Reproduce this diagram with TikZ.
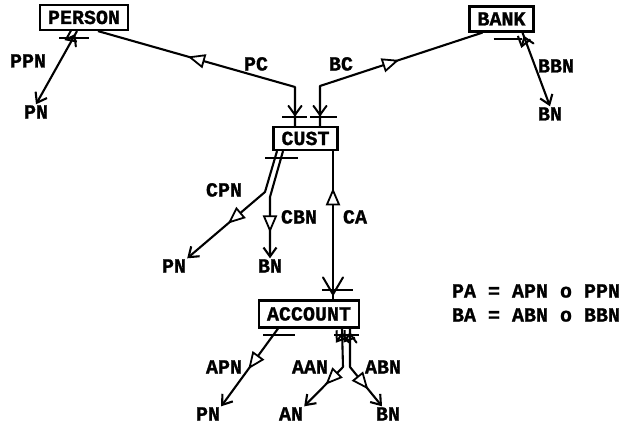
\documentclass[tikz,border=0pt]{standalone}
\usepackage{fontspec}
\setmainfont{Liberation Mono}[BoldFeatures={FakeBold=1.2}]
\usetikzlibrary{arrows.meta,decorations.markings}
\tikzset{
  conn/.style={line width=2.1pt, line join=round},
  ent/.style={draw, line width=2.2pt, inner xsep=8pt, inner ysep=0pt, minimum height=25pt, text height=13pt, text depth=0pt},
  lbl/.style={inner sep=1pt, text height=13pt, text depth=0pt},
  endarr/.style={-{Straight Barb[length=9pt,width=13pt]}},
  domv/.style={postaction={decorate, decoration={markings, mark=at position #1 with {\draw[line width=2pt,line cap=round] (9pt,6.5pt) -- (0pt,0pt) -- (9pt,-6.5pt);}}}},
  bigdomv/.style={postaction={decorate, decoration={markings, mark=at position #1 with {\draw[line width=2pt,line cap=round] (17pt,10pt) -- (0pt,0pt) -- (17pt,-10pt);}}}},
  tri/.style={postaction={decorate, decoration={markings, mark=at position #1 with {\draw[line width=1.8pt,fill=white,line join=miter] (0pt,0pt) -- (-14pt,6pt) -- (-14pt,-6pt) -- cycle;}}}},
}
\begin{document}
\begin{tikzpicture}[x=1pt,y=-1pt,font=\fontsize{20}{24}\selectfont\bfseries]
\useasboundingbox (0,0) rectangle (627,428);
% entities
\node[ent] (person) at (84,17.5) {PERSON};
\node[ent] (bank) at (501.5,19) {BANK};
\node[ent,minimum height=23pt] (cust) at (305.5,138.5) {CUST};
\node[ent,minimum height=27pt] (account) at (309,314) {ACCOUNT};
% value labels
\node[lbl] (pn1) at (36,112) {PN};
\node[lbl] (bn1) at (550,114) {BN};
\node[lbl] (pn2) at (174,266) {PN};
\node[lbl] (bn2) at (270,266) {BN};
\node[lbl] (pn3) at (208,414) {PN};
\node[lbl] (an) at (291,414) {AN};
\node[lbl] (bn3) at (388,414) {BN};
% function names
\node[lbl] (lppn) at (28,61) {PPN};
\node[lbl] (lpc) at (256,64) {PC};
\node[lbl] (lbc) at (341,64) {BC};
\node[lbl] (lbbn) at (556,66) {BBN};
\node[lbl] (lcpn) at (224,190) {CPN};
\node[lbl] (lcbn) at (299,217) {CBN};
\node[lbl] (lca) at (355,217) {CA};
\node[lbl] (lapn) at (224,367) {APN};
\node[lbl] (laan) at (310,367) {AAN};
\node[lbl] (labn) at (383,367) {ABN};
\node[lbl] (eq1) at (536,291) {PA = APN o PPN};
\node[lbl] (eq2) at (536,315) {BA = ABN o BBN};
% bend points
\coordinate (pcb) at (295,87);
\coordinate (bcb) at (320,86);
\coordinate (cpnb) at (265,192);
\coordinate (cbnb) at (270,197);
\coordinate (aanb) at (343,367);
\coordinate (abnb) at (350,367);
% PPN
\draw[conn,endarr,domv=5pt] ([xshift=-7pt]person.south) -- (pn1.north);
\draw[conn] ([xshift=-25pt,yshift=-6.5pt]person.south) -- ++(30,0);
% PC
\draw[conn,domv=11pt,tri=148pt] ([xshift=-10.5pt]cust.north) -- (pcb) -- ([xshift=14pt]person.south);
\draw[conn] ([xshift=-23.5pt,yshift=9pt]cust.north) -- ++(25,0);
% BC
\draw[conn,domv=11pt,tri=121pt] ([xshift=14.5pt]cust.north) -- (bcb) -- ([xshift=-19pt]bank.south);
\draw[conn] ([xshift=4.5pt,yshift=9pt]cust.north) -- ++(27,0);
% BBN
\draw[conn,endarr,domv=5pt] ([xshift=21pt]bank.south) -- (bn1.north);
\draw[conn] ([xshift=-8pt,yshift=-6pt]bank.south) -- ++(28,0);
% CPN and CBN
\draw[conn,endarr,tri=89pt] ([xshift=-28.5pt]cust.south) -- (cpnb) -- (pn2.north east);
\draw[conn,endarr,tri=81pt] ([xshift=-22.5pt]cust.south) -- (cbnb) -- (bn2.north);
\draw[conn] ([xshift=-40.5pt,yshift=-7pt]cust.south) -- ++(33,0);
% CA
\draw[conn,bigdomv=5pt,tri=109pt] ([xshift=24pt]account.north) coordinate (ca1) -- (ca1 |- cust.south);
\draw[conn] ([xshift=13pt,yshift=9pt]account.north) -- ++(31,0);
% APN
\draw[conn,endarr,tri=48pt] ([xshift=-31pt]account.south) -- (pn3.north east);
\draw[conn] ([xshift=-46pt,yshift=-6pt]account.south) -- ++(32,0);
% AAN and ABN
\draw[conn,endarr,domv=5pt,tri=61pt] ([xshift=33pt]account.south) -- (aanb) -- (an.north east);
\draw[conn,endarr,domv=5pt,tri=65pt] ([xshift=41pt]account.south) -- (abnb) -- ([xshift=-6pt]bn3.north);
\draw[conn] ([xshift=25pt,yshift=-6pt]account.south) -- ++(25,0);
\end{tikzpicture}
\end{document}
